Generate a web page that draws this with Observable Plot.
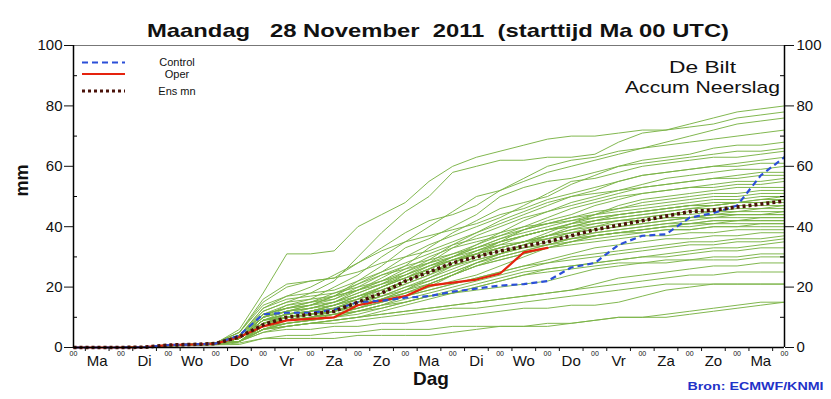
<!DOCTYPE html>
<html><head><meta charset="utf-8">
<script src="https://cdn.jsdelivr.net/npm/d3@7"></script>
<script src="https://cdn.jsdelivr.net/npm/@observablehq/plot@0.6"></script>
<style>
body{margin:0;background:#fff;}
svg text{white-space:pre;}
</style>
</head><body><div id="chart"></div>
<script>
const titleText = "Maandag   28 November  2011  (starttijd Ma 00 UTC)";
const stationText = "De Bilt";
const varText = "Accum Neerslag";
const xLabel = "Dag";
const yLabel = "mm";
const creditText = "Bron: ECMWF/KNMI";
const legendLabels = ["Control", "Oper", "Ens mn"];
const hourLabel = "00";
const dayLabels = ["Ma","Di","Wo","Do","Vr","Za","Zo","Ma","Di","Wo","Do","Vr","Za","Zo","Ma"];
const dayCenters = [0.5,1.5,2.5,3.5,4.5,5.5,6.5,7.5,8.5,9.5,10.5,11.5,12.5,13.5,14.5];
const dayBounds = [0,1,2,3,4,5,6,7,8,9,10,11,12,13,14,15];
const quarterTicks = [0.25,0.75,1.25,1.75,2.25,2.75,3.25,3.75,4.25,4.75,5.25,5.75,6.25,6.75,7.25,7.75,8.25,8.75,9.25,9.75,10.25,10.75,11.25,11.75,12.25,12.75,13.25,13.75,14.25,14.75];
const yTicks = [0,20,40,60,80,100];
const yMinor = [10,30,50,70,90];

const days = [0,0.5,1,1.5,2,2.5,3,3.5,4,4.5,5,5.5,6,6.5,7,7.5,8,8.5,9,9.5,10,10.5,11,11.5,12,12.5,13,13.5,14,14.5,15];

const control = [0,0,0,0.1,0.8,1,1.3,4,11,11.5,11.5,12.5,15,15.5,16.5,17,18.5,19.5,20.5,21,22,26.5,28,34,37,37.5,43,44.5,47,57,63];
const oper    = [0,0,0,0.1,0.8,1,1.3,3.5,7,9,9.5,10,14,15.5,17,20.5,21.5,22.5,24.5,31.5,33];
const ensMean = [0,0,0,0.1,0.8,1,1.3,3.5,7.5,10,11,12,15,18,22,25,28,30,32,33.5,35,37,39,40.5,42,43.5,45,45.5,46.5,47.5,48.5];

const members = [
[0,0,0,0.1,0.8,1,1.4,6,18,31,31,32,40,44,48,55,60,63,65,67,69,70,70,71,72,72,74,76,78,79,80],
[0,0,0,0.1,0.9,1.1,1.5,4,12,15,18,22,30,38,45,50,58,60,62,62,63,63,64,68,71,72,73,74,76,77,78],
[0,0,0,0.1,0.7,0.9,1.2,3,10,14,16,20,24,30,35,40,45,50,52,55,58,60,62,64,66,68,70,72,74,75,76],
[0,0,0,0.1,0.8,1.1,1.6,5,16,21,22,23,28,33,38,42,44,47,52,56,60,62,63,65,66,67,68,69,70,71,72],
[0,0,0,0.1,0.8,1,1.3,3,9,12,14,17,22,27,33,36,40,44,50,53,55,56,58,60,62,63,64,66,67,67,68],
[0,0,0,0.1,0.7,0.9,1.2,2,8,11,13,15,19,23,27,33,38,42,46,48,50,54,57,60,61,62,63,64,65,65,66],
[0,0,0,0.1,0.8,1,1.4,4,11,13,15,18,21,25,30,34,37,40,43,47,51,55,56,58,60,61,62,63,63,64,65],
[0,0,0,0.1,0.8,1,1.3,3,10,12,13,15,18,21,25,29,34,38,41,44,47,50,52,55,57,58,59,60,61,62,63],
[0,0,0,0.1,0.9,1.1,1.4,4,13,17,20,24,28,32,35,37,39,41,44,46,49,51,53,55,57,58,59,60,60,61,61],
[0,0,0,0.1,0.7,0.9,1.2,2,7,10,12,14,16,20,24,28,33,37,40,43,45,48,50,52,54,56,57,58,59,59,60],
[0,0,0,0.1,0.8,1,1.3,3,9,11,12,14,17,19,22,26,30,34,38,42,45,47,49,51,53,54,55,56,57,58,58],
[0,0,0,0.1,0.9,1.1,1.5,5,15,20,22,23,25,28,30,32,35,38,42,45,48,50,51,52,53,54,55,56,56,57,57],
[0,0,0,0.1,0.7,0.9,1.2,3,8,10,11,13,15,18,22,25,28,31,35,39,42,44,47,49,51,52,53,54,55,55,56],
[0,0,0,0.1,0.8,1,1.3,3,11,14,15,16,19,22,26,30,33,35,37,40,43,46,48,50,51,52,53,53,54,54,55],
[0,0,0,0.1,0.8,1,1.3,4,10,12,14,17,21,24,26,28,30,33,36,38,40,42,44,47,49,50,51,52,53,53,53],
[0,0,0,0.1,0.7,0.9,1.1,2,6,9,11,13,16,20,23,26,29,31,33,35,38,41,44,46,48,49,50,51,51,52,52],
[0,0,0,0.1,0.8,1,1.3,3,9,11,12,14,17,20,23,27,30,33,36,39,41,43,45,46,47,48,49,50,50,51,51],
[0,0,0,0.1,0.9,1.1,1.4,4,12,15,16,17,19,22,25,28,31,34,37,39,41,43,44,45,46,47,48,49,49,50,50],
[0,0,0,0.1,0.7,0.9,1.2,2,7,9,10,12,15,18,21,24,27,30,33,35,37,40,42,44,45,46,47,48,48,49,49],
[0,0,0,0.1,0.8,1,1.3,3,10,12,13,14,16,18,21,24,28,32,35,37,39,41,43,44,45,46,47,47,48,48,48],
[0,0,0,0.1,0.9,1.1,1.5,4,11,13,14,16,20,24,27,29,31,33,35,37,39,40,42,43,44,45,46,46,47,47,47],
[0,0,0,0.1,0.7,0.9,1.1,2,6,8,9,11,13,16,19,23,27,30,32,34,36,38,40,42,43,44,45,45,46,46,46],
[0,0,0,0.1,0.8,1,1.3,3,9,11,12,13,15,17,20,22,25,28,31,34,37,39,41,42,43,44,44,45,45,45,45],
[0,0,0,0.1,0.8,1,1.3,3,10,13,15,17,19,21,23,26,29,31,33,35,37,39,40,41,42,43,43,44,44,44,44],
[0,0,0,0.1,0.7,0.9,1.2,2,8,10,11,12,14,17,20,23,26,29,31,33,35,36,38,39,40,41,42,43,43,43,43],
[0,0,0,0.1,0.9,1.1,1.4,4,13,16,17,18,20,22,24,27,30,32,34,35,36,37,38,39,40,41,41,42,42,42,42],
[0,0,0,0.1,0.8,1,1.3,3,9,10,11,13,16,19,22,25,27,29,31,33,34,35,37,38,39,40,40,41,41,41,41],
[0,0,0,0.1,0.7,0.9,1.1,2,7,9,10,11,13,15,18,21,24,27,29,31,33,35,36,37,38,39,39,40,40,40,40],
[0,0,0,0.1,0.8,1,1.3,3,9,11,12,14,17,20,23,26,29,32,35,37,39,41,42,43,44,45,46,47,48,49,50],
[0,0,0,0.1,0.9,1.1,1.5,5,14,17,18,19,22,25,28,31,34,36,38,40,41,42,43,44,45,46,47,47,48,48,49],
[0,0,0,0.1,0.7,0.9,1.2,2,6,8,9,10,12,14,17,20,24,28,31,34,36,38,39,40,41,42,43,44,45,46,47],
[0,0,0,0.1,0.8,1,1.3,3,10,12,13,15,18,21,24,27,29,31,33,35,37,38,39,40,41,42,43,43,44,44,45],
[0,0,0,0.1,0.8,1,1.4,4,11,13,14,15,17,19,22,25,28,31,34,37,39,40,41,42,42,43,43,44,44,44,44],
[0,0,0,0.1,0.7,0.9,1.1,2,7,9,10,12,14,16,19,22,25,28,30,32,34,36,37,38,39,40,41,42,42,43,43],
[0,0,0,0.1,0.8,1,1.3,3,8,10,11,12,14,16,18,20,22,24,27,30,33,35,37,38,39,40,41,41,42,42,42],
[0,0,0,0.1,0.8,1,1.3,3,9,11,12,13,15,17,19,21,24,27,30,32,34,36,37,38,38,39,39,40,40,41,41],
[0,0,0,0.1,0.8,1,1.3,3,8,10,11,12,14,16,18,21,24,27,29,31,33,34,35,36,37,37,38,38,39,39,39],
[0,0,0,0.1,0.7,0.9,1.1,2,7,9,10,11,13,15,17,19,21,23,25,27,29,31,33,34,35,36,36,37,37,38,38],
[0,0,0,0.1,0.8,1,1.3,3,9,10,11,12,13,15,17,19,21,23,25,27,28,30,31,32,33,34,35,35,36,36,37],
[0,0,0,0.1,0.8,1,1.2,2,6,8,9,10,12,14,16,18,20,22,24,26,28,29,30,31,32,33,34,34,35,35,36],
[0,0,0,0.1,0.7,0.9,1.2,2,7,9,10,11,12,13,15,17,19,21,23,25,26,27,28,29,30,31,32,33,33,34,35],
[0,0,0,0.1,0.8,1,1.3,3,8,9,10,11,12,14,15,17,18,20,22,24,26,27,28,29,30,30,31,32,32,33,33],
[0,0,0,0.1,0.7,0.9,1.1,2,6,7,8,9,10,12,14,16,18,20,22,24,25,26,27,28,28,29,29,30,30,31,31],
[0,0,0,0.1,0.8,1,1.2,2,7,8,9,10,11,13,15,17,18,19,20,21,22,24,26,27,28,28,29,29,29,30,30],
[0,0,0,0.1,0.7,0.9,1.1,2,5,7,8,9,10,11,12,13,14,15,16,17,18,19,21,23,24,25,26,27,27,28,28],
[0,0,0,0.1,0.7,0.9,1.1,2,6,7,8,9,10,11,12,13,14,15,16,17,18,19,20,21,22,23,24,24,25,25,25],
[0,0,0,0.1,0.8,1,1.2,2,6,7,8,8,9,10,11,12,13,13,14,15,16,17,18,19,20,21,21,21,21,21,21],
[0,0,0,0.1,0.7,0.9,1.1,2,5,6,6,7,7,8,8,9,10,11,12,13,13,14,14,15,17,19,20,21,21,21,21],
[0,0,0,0.1,0.5,0.7,0.9,1,3,4,4,5,5,6,6,6,7,7,7,7,8,8,9,10,10,11,12,13,14,15,15],
[0,0,0,0.1,0.5,0.7,0.9,1.5,3,3,3,3,4,4,4,4,5,6,7,7,7,8,9,10,10,10,11,12,13,14,15]
];

const memberRows = members.flatMap((m, i) => m.map((v, j) => ({member: i, day: days[j], mm: v})));
const toRows = arr => arr.map((v, j) => ({day: days[j], mm: v}));
const controlRows = toRows(control);
const operRows = toRows(oper);
const meanRows = toRows(ensMean);

const font = "Liberation Sans, Arial, Helvetica, sans-serif";

const chart = Plot.plot({
  width: 831, height: 399,
  marginLeft: 73, marginRight: 47, marginTop: 45, marginBottom: 52,
  x: {domain: [0, 15]},
  y: {domain: [0, 100]},
  style: {fontFamily: font, background: "#fff", color: "#111", overflow: "visible"},
  marks: [
    Plot.ruleY([100], {stroke: "#777", strokeWidth: 1}),
    Plot.line(memberRows, {x: "day", y: "mm", z: "member", stroke: "#7ab346", strokeWidth: 1, strokeOpacity: 0.95}),
    Plot.line(operRows, {x: "day", y: "mm", stroke: "#e5230e", strokeWidth: 2.2}),
    Plot.line(controlRows, {x: "day", y: "mm", stroke: "#2b4fd8", strokeWidth: 2.2, strokeDasharray: "6,4", strokeLinecap: "butt"}),
    Plot.line(meanRows, {x: "day", y: "mm", stroke: "#4a120a", strokeWidth: 3.6, strokeDasharray: "3,3", strokeLinecap: "butt"}),
    Plot.ruleX([0, 15], {stroke: "#000", strokeWidth: 1.5}),
    Plot.ruleY([0], {stroke: "#000", strokeWidth: 1.5}),
    Plot.tickY(yMinor, {y: d => d, insetRight: 707, stroke: "#000"}),
    Plot.tickY(yMinor, {y: d => d, insetLeft: 707, stroke: "#000"}),
    Plot.axisY(yTicks, {anchor: "left", tickSize: 9, tickPadding: 2, fontSize: 15, label: null}),
    Plot.axisY(yTicks, {anchor: "right", tickSize: 9, tickPadding: 3, fontSize: 15, label: null}),
    Plot.axisX(quarterTicks, {anchor: "bottom", tickSize: 4, tickFormat: () => "", label: null}),
    Plot.axisX(dayBounds, {anchor: "bottom", tickSize: 0, tickPadding: 4, fontSize: 7, tickFormat: () => hourLabel, label: null}),
    Plot.axisX(dayCenters, {anchor: "bottom", tickSize: 0, tickPadding: 8, fontSize: 15, tickFormat: d => dayLabels[dayCenters.indexOf(d)], label: null}),
    Plot.text([xLabel], {frameAnchor: "bottom", dy: 37, dx: 2, fontSize: 19, fontWeight: "bold"}),
    Plot.text([yLabel], {frameAnchor: "left", dx: -51, rotate: -90, fontSize: 18, fontWeight: "bold"}),
    Plot.text([titleText], {frameAnchor: "top", dy: -22, dx: 9, fontSize: 19, fontWeight: "bold"}),
    Plot.text([stationText], {frameAnchor: "top-right", textAnchor: "middle", dx: -82, dy: 15, fontSize: 17}),
    Plot.text([varText], {frameAnchor: "top-right", textAnchor: "middle", dx: -82, dy: 35, fontSize: 17}),
    Plot.text([creditText], {frameAnchor: "bottom-right", textAnchor: "end", dx: 39, dy: 42, fontSize: 10, fontWeight: "bold", fill: "#1f33c8"})
  ]
});

document.getElementById("chart").appendChild(chart);
const svg = d3.select(chart);

svg.selectAll("text").each(function() {
  const t = d3.select(this);
  const s = this.textContent;
  if (s === titleText) t.attr("textLength", 582).attr("lengthAdjust", "spacingAndGlyphs");
  if (s === varText) t.attr("textLength", 155).attr("lengthAdjust", "spacingAndGlyphs");
  if (s === stationText) t.attr("textLength", 67).attr("lengthAdjust", "spacingAndGlyphs");
  if (s === creditText) t.attr("textLength", 136).attr("lengthAdjust", "spacingAndGlyphs");
});

// legend
const legendY = [62.5, 74, 91];
const legStyles = [
  {stroke: "#2b4fd8", w: 2.2, dash: "6,4"},
  {stroke: "#e5230e", w: 2.2, dash: null},
  {stroke: "#4a120a", w: 3.2, dash: "3,3"}
];
const leg = svg.append("g");
legStyles.forEach((s, i) => {
  leg.append("line").attr("x1", 82).attr("x2", 125)
    .attr("y1", legendY[i]).attr("y2", legendY[i])
    .attr("stroke", s.stroke).attr("stroke-width", s.w)
    .attr("stroke-dasharray", s.dash);
  leg.append("text").attr("x", 177).attr("y", legendY[i]).attr("dy", "0.35em")
    .attr("text-anchor", "middle").attr("font-size", 11)
    .attr("font-family", font).attr("fill", "#111")
    .text(legendLabels[i]);
});
</script>
</body></html>
